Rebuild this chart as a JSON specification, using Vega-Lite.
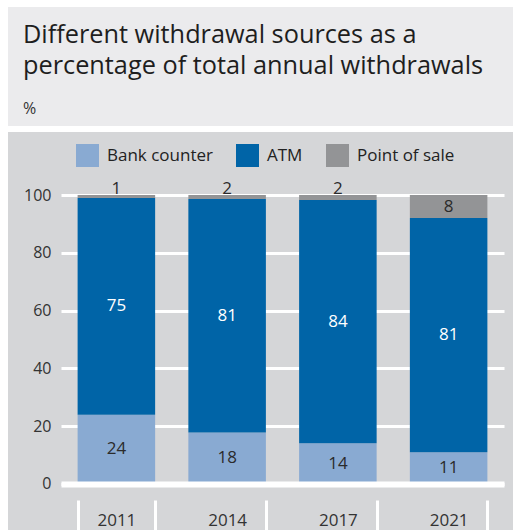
{
  "$schema": "https://vega.github.io/schema/vega-lite/v6.json",
  "background": "#ffffff",
  "padding": {"left": 8, "top": 7, "right": 0, "bottom": 0},
  "spacing": 6,
  "config": {
    "font": "Open Sans",
    "view": {"stroke": null},
    "axis": {"minExtent": 0, "maxExtent": 300}
  },
  "vconcat": [
    {
      "width": 505,
      "height": 119,
      "view": {"fill": "#ebebed", "stroke": null},
      "title": {
        "text": ["Different withdrawal sources as a", "percentage of total annual withdrawals"],
        "subtitle": "%",
        "anchor": "start",
        "frame": "group",
        "dx": 15,
        "offset": -110,
        "font": "Open Sans",
        "fontSize": 25.3,
        "fontWeight": "normal",
        "color": "#1e1e1e",
        "lineHeight": 31,
        "subtitleFont": "Open Sans",
        "subtitleFontSize": 16,
        "subtitleColor": "#333333",
        "subtitlePadding": 22
      },
      "data": {"values": [{"t": ""}]},
      "mark": {"type": "text"},
      "encoding": {"text": {"field": "t"}}
    },
    {
      "width": 505,
      "height": 398,
      "view": {"fill": "#d5d6d8", "stroke": null},
      "data": {
        "values": [
          {"year": "2011", "source": "Bank counter", "value": 24, "label": "24"},
          {"year": "2011", "source": "ATM", "value": 75, "label": "75"},
          {"year": "2011", "source": "Point of sale", "value": 1, "label": "1"},
          {"year": "2014", "source": "Bank counter", "value": 17.8, "label": "18"},
          {"year": "2014", "source": "ATM", "value": 80.8, "label": "81"},
          {"year": "2014", "source": "Point of sale", "value": 1.4, "label": "2"},
          {"year": "2017", "source": "Bank counter", "value": 14.1, "label": "14"},
          {"year": "2017", "source": "ATM", "value": 84.2, "label": "84"},
          {"year": "2017", "source": "Point of sale", "value": 1.7, "label": "2"},
          {"year": "2021", "source": "Bank counter", "value": 11, "label": "11"},
          {"year": "2021", "source": "ATM", "value": 81, "label": "81"},
          {"year": "2021", "source": "Point of sale", "value": 8, "label": "8"}
        ]
      },
      "transform": [
        {"calculate": "indexof(['Bank counter','ATM','Point of sale'], datum.source)", "as": "order"},
        {"stack": "value", "groupby": ["year"], "sort": [{"field": "order", "order": "ascending"}], "as": ["v0", "v1"]},
        {"calculate": "(datum.v0 + datum.v1) / 2", "as": "mid"}
      ],
      "encoding": {
        "x": {
          "field": "year",
          "type": "ordinal",
          "scale": {"range": [53, 496], "paddingInner": 0.3, "paddingOuter": 0.15},
          "axis": {
            "orient": "bottom",
            "offset": -30,
            "title": null,
            "domain": false,
            "grid": false,
            "tickBand": "extent",
            "tickSize": 30,
            "tickColor": "#ffffff",
            "tickWidth": 3,
            "labelAngle": 0,
            "labelPadding": -5,
            "labelBaseline": "alphabetic",
            "labelFont": "Open Sans",
            "labelFontSize": 17,
            "labelColor": "#333333"
          }
        }
      },
      "layer": [
        {
          "mark": {"type": "bar"},
          "encoding": {
            "y": {
              "field": "v1",
              "type": "quantitative",
              "scale": {"domain": [-15.92, 121.8], "nice": false, "zero": false},
              "axis": {
                "orient": "left",
                "offset": -53,
                "title": null,
                "values": [0, 20, 40, 60, 80, 100],
                "grid": true,
                "gridColor": "#ffffff",
                "gridWidth": 3,
                "gridOpacity": 1,
                "domain": false,
                "ticks": false,
                "labelPadding": 10,
                "labelFont": "Open Sans",
                "labelFontSize": 16,
                "labelColor": "#333333"
              }
            },
            "y2": {"field": "v0"},
            "color": {
              "field": "source",
              "type": "nominal",
              "sort": ["Bank counter", "ATM", "Point of sale"],
              "scale": {"domain": ["Bank counter", "ATM", "Point of sale"], "range": ["#89aad2", "#0064a7", "#939496"]},
              "legend": {
                "orient": "none",
                "legendX": 68,
                "legendY": 137,
                "direction": "horizontal",
                "title": null,
                "symbolType": "square",
                "symbolSize": 529,
                "symbolStrokeWidth": 0,
                "symbolOpacity": 1,
                "labelFont": "Open Sans",
                "labelFontSize": 17,
                "labelColor": "#222222",
                "labelOffset": 8,
                "columnPadding": 23,
                "padding": 0
              }
            }
          }
        },
        {
          "transform": [{"filter": "datum.source === 'Bank counter'"}],
          "mark": {"type": "text", "fontSize": 17, "font": "Open Sans", "color": "#2b2b2b", "baseline": "middle"},
          "encoding": {
            "y": {"field": "mid", "type": "quantitative", "axis": null},
            "text": {"field": "label"}
          }
        },
        {
          "transform": [{"filter": "datum.source === 'ATM'"}],
          "mark": {"type": "text", "fontSize": 17, "font": "Open Sans", "color": "#ffffff", "baseline": "middle"},
          "encoding": {
            "y": {"field": "mid", "type": "quantitative", "axis": null},
            "text": {"field": "label"}
          }
        },
        {
          "transform": [{"filter": "datum.source === 'Point of sale' && datum.value >= 5"}],
          "mark": {"type": "text", "fontSize": 17, "font": "Open Sans", "color": "#2b2b2b", "baseline": "middle"},
          "encoding": {
            "y": {"field": "mid", "type": "quantitative", "axis": null},
            "text": {"field": "label"}
          }
        },
        {
          "transform": [{"filter": "datum.source === 'Point of sale' && datum.value < 5"}],
          "mark": {"type": "text", "fontSize": 17, "font": "Open Sans", "color": "#2b2b2b", "baseline": "alphabetic", "dy": -1},
          "encoding": {
            "y": {
              "field": "v1",
              "type": "quantitative",
              "axis": {
                "orient": "left",
                "offset": -53,
                "title": null,
                "values": [0],
                "grid": true,
                "gridColor": "#ffffff",
                "gridWidth": 6,
                "gridOpacity": 1,
                "labels": false,
                "ticks": false,
                "domain": false,
                "zindex": 1
              }
            },
            "text": {"field": "label"}
          }
        }
      ],
      "resolve": {"axis": {"y": "independent"}}
    }
  ]
}
